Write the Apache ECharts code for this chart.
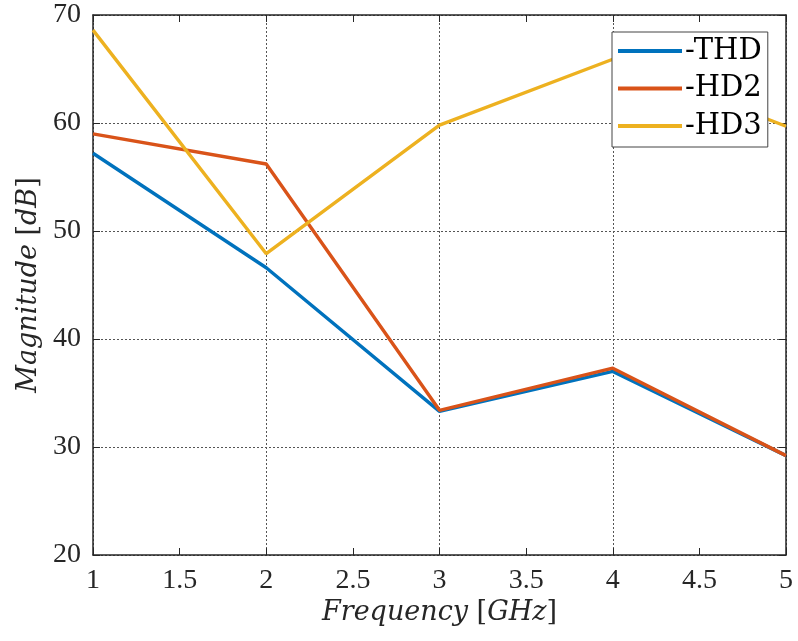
<!DOCTYPE html>
<html><head><meta charset="utf-8">
<script src="https://cdn.jsdelivr.net/npm/echarts@6/dist/echarts.min.js"></script>
<style>html,body{margin:0;padding:0;background:#fff}#c{width:798px;height:641px}</style>
</head><body><div id="c"></div>
<script>
const freq = [1, 2, 3, 4, 5];
const thd = [57.2, 46.6, 33.3, 37.0, 29.2];
const hd2 = [59.0, 56.2, 33.4, 37.3, 29.2];
const hd3 = [68.6, 47.9, 59.8, 65.9, 59.7];
const seriesNames = ['-THD', '-HD2', '-HD3'];
const colors = ['#0072BD', '#D95319', '#EDB120'];

const FONT = 'Liberation Serif';
const NFONT = 'DejaVu Serif';
const AX = '#262626';
const gridLine = {show: true, lineStyle: {color: '#555', type: [2, 2], width: 1}};
const rich = {
  i: {fontFamily: NFONT, fontStyle: 'italic', fontSize: 27, color: AX},
  n: {fontFamily: NFONT, fontSize: 27, color: AX}
};
const chart = echarts.init(document.getElementById('c'));
const zip = a => freq.map((f, i) => [f, a[i]]);
chart.setOption({
  animation: false,
  grid: {left: 93, right: 12, top: 15, bottom: 86},
  legend: {
    orient: 'vertical', left: 612, top: 32, z: 100,
    data: seriesNames,
    icon: 'rect', itemWidth: 64, itemHeight: 4, itemGap: 7.5,
    padding: [4, 6, 6, 6],
    backgroundColor: '#fff', borderColor: '#444', borderWidth: 1,
    textStyle: {fontFamily: NFONT, fontSize: 29, color: '#000', lineHeight: 30, padding: [0, 0, 0, -2]}
  },
  xAxis: [
    {type: 'value', min: 1, max: 5, interval: 0.5, position: 'bottom',
     name: '{i|Frequency}{n|\u00a0[}{i|GHz}{n|]}', nameLocation: 'middle', nameGap: 38,
     nameTextStyle: {rich},
     axisLine: {show: true, lineStyle: {color: AX, width: 1.5}},
     axisTick: {show: true, inside: true, length: 7, lineStyle: {color: AX}},
     axisLabel: {fontFamily: FONT, fontSize: 28, color: AX, margin: 12},
     splitLine: {show: false}},
    {type: 'value', min: 1, max: 5, interval: 0.5, position: 'top',
     axisLine: {show: true, lineStyle: {color: AX, width: 1.5}},
     axisTick: {show: true, inside: true, length: 7, lineStyle: {color: AX}},
     axisLabel: {show: false}, splitLine: {show: false}},
    {type: 'value', min: 1, max: 5, interval: 1, position: 'bottom',
     axisLine: {show: false}, axisTick: {show: false}, axisLabel: {show: false},
     splitLine: gridLine}
  ],
  yAxis: [
    {type: 'value', min: 20, max: 70, interval: 10, position: 'left',
     name: '{i|Magnitude}{n|\u00a0[}{i|dB}{n|]}', nameLocation: 'middle', nameGap: 51, nameRotate: 90,
     nameTextStyle: {rich},
     axisLine: {show: true, lineStyle: {color: AX, width: 1.5}},
     axisTick: {show: true, inside: true, length: 7, lineStyle: {color: AX}},
     axisLabel: {fontFamily: FONT, fontSize: 28, color: AX, margin: 12},
     splitLine: gridLine},
    {type: 'value', min: 20, max: 70, interval: 10, position: 'right',
     axisLine: {show: true, lineStyle: {color: AX, width: 1.5}},
     axisTick: {show: true, inside: true, length: 7, lineStyle: {color: AX}},
     axisLabel: {show: false}, splitLine: {show: false}}
  ],
  series: [thd, hd2, hd3].map((d, k) => ({
    name: seriesNames[k], type: 'line', data: zip(d), xAxisIndex: 0, yAxisIndex: 0,
    showSymbol: false, symbol: 'none', color: colors[k],
    lineStyle: {width: 3.4, color: colors[k]}, z: 3 + k
  }))
});
</script></body></html>
